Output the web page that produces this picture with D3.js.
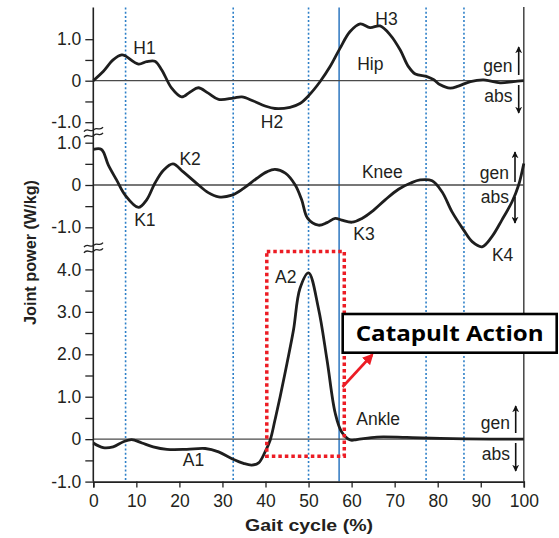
<!DOCTYPE html>
<html><head><meta charset="utf-8">
<script src="https://cdn.jsdelivr.net/npm/d3@7"></script>
<style>html,body{margin:0;padding:0;background:#fff;} svg{display:block;}</style>
</head><body>
<svg id="chart" width="559" height="538"></svg>
<script>
// ---------------- DATA ----------------
const hipPct   = [0,2.3,4.6,6.6,7.4,10.5,12.4,14.3,15.9,18.2,20.5,22.5,24.4,26.7,29.1,32.5,34.5,37.2,39.9,42.2,45.7,48.0,50.2,52.7,55.0,57.3,59.6,62.0,64.3,66.6,69.0,71.3,73.2,74.8,77.5,79.0,80.6,82.9,84.8,87.6,90.7,94.5,97.6,100];
const hipPower = [0,0.22,0.5,0.62,0.6,0.40,0.46,0.47,0.26,-0.18,-0.39,-0.27,-0.17,-0.30,-0.45,-0.42,-0.39,-0.49,-0.61,-0.67,-0.64,-0.55,-0.34,-0.02,0.34,0.78,1.18,1.37,1.28,1.32,1.10,0.74,0.34,0.16,0.10,0.03,-0.10,-0.18,-0.13,-0.02,0.02,-0.05,-0.02,0];

const kneePct   = [0,1.9,3.5,5.4,7.4,10.5,12.4,14.3,16.3,18.5,20.9,24.0,26.7,29.1,32.2,34.9,38.0,40.3,42.2,44.6,46.9,48.4,49.8,52.3,54.3,56.2,57.7,60.1,62.4,64.7,67.8,70.9,73.6,75.9,78.7,81.0,83.3,86.0,88.0,90.3,92.6,94.9,97.3,98.8,100];
const kneePower = [0.84,0.84,0.47,0.12,-0.24,-0.53,-0.35,0.04,0.35,0.50,0.31,0.04,-0.18,-0.28,-0.24,-0.08,0.16,0.31,0.37,0.28,0.0,-0.35,-0.79,-0.95,-0.89,-0.79,-0.83,-0.88,-0.79,-0.63,-0.35,-0.10,0.04,0.12,0.10,-0.16,-0.63,-1.06,-1.34,-1.46,-1.22,-0.83,-0.39,0.0,0.51];

const anklePct   = [0,2.3,4.6,7.0,8.9,11.3,13.9,17.1,21.7,26.0,29.1,32.2,34.9,36.8,38.4,39.9,41.1,42.2,43.4,45.0,46.5,48.0,50.0,52.3,54.3,56.2,57.7,59.7,61.2,65.9,72.8,80.6,92.2,100];
const anklePower = [-0.09,-0.20,-0.18,-0.06,-0.01,-0.09,-0.18,-0.24,-0.24,-0.22,-0.30,-0.46,-0.57,-0.61,-0.56,-0.30,-0.02,0.45,1.0,1.79,2.57,3.55,3.92,3.08,1.86,0.61,0.17,-0.02,-0.01,0.05,0.04,0.02,0.0,0.0];

const xTicks = [0,10,20,30,40,50,60,70,80,90,100];
const hipTicks = [-1,-0.5,0,0.5,1];
const kneeTicks = [-1,-0.5,0,0.5,1];
const ankleTicks = [-1,-0.5,0,0.5,1,1.5,2,2.5,3,3.5,4];
const majorTicks = [-1,0,1,2,3,4];

const eventLines = [7.5, 32.5, 50, 77.3, 86.1];   // dotted
const toeOff = 57.1;                              // solid

const peakLabels = ["H1","H2","H3","K1","K2","K3","K4","A1","A2"];
const jointNames = ["Hip","Knee","Ankle"];

// ---------------- SETUP ----------------
const FONT = "'Liberation Sans', Arial, Helvetica, sans-serif";
const TXT = "#231f20";
const svg = d3.select("#chart");

const x = d3.scaleLinear().domain([0,100]).range([93.3,523.8]);
const yHip = d3.scaleLinear().domain([-1,1]).range([122.2,39.2]);
const yKnee = d3.scaleLinear().domain([-1,1]).range([227.3,142.7]);
const yAnkle = d3.scaleLinear().domain([-1,4]).range([481.6,269.4]);
const plotTop = 7.5, plotBottom = 481.6;

const defs = svg.append("defs");
defs.append("marker").attr("id","blk").attr("viewBox","0 0 10 10").attr("refX",9).attr("refY",5)
  .attr("markerWidth",7).attr("markerHeight",7).attr("markerUnits","userSpaceOnUse").attr("orient","auto")
  .append("path").attr("d","M0,0 L10,5 L0,10 L3,5 z").attr("fill","#111");
defs.append("marker").attr("id","red").attr("viewBox","0 0 10 10").attr("refX",8).attr("refY",5)
  .attr("markerWidth",11).attr("markerHeight",11).attr("markerUnits","userSpaceOnUse").attr("orient","auto")
  .append("path").attr("d","M0,0 L10,5 L0,10 z").attr("fill","#ec1c24");

// vertical event lines
svg.append("g").selectAll("line").data(eventLines).join("line")
  .attr("x1", d => x(d)).attr("x2", d => x(d)).attr("y1", plotTop).attr("y2", plotBottom)
  .attr("stroke","#2f80c8").attr("stroke-width",1.6).attr("stroke-dasharray","2,2.2");
svg.append("line").attr("x1", x(toeOff)).attr("x2", x(toeOff)).attr("y1", plotTop).attr("y2", plotBottom)
  .attr("stroke","#3b7fc4").attr("stroke-width",1.6);

// zero lines
[yHip, yKnee, yAnkle].forEach(s => {
  svg.append("line").attr("x1", x(0)).attr("x2", x(100)).attr("y1", s(0)).attr("y2", s(0))
    .attr("stroke","#4a4a4a").attr("stroke-width",1.3);
});

// right border
svg.append("line").attr("x1", x(100)).attr("x2", x(100)).attr("y1", 7).attr("y2", plotBottom)
  .attr("stroke","#444").attr("stroke-width",1.5);

// left axes
function fmt(d){ return d === 0 ? "0" : d.toFixed(1); }
function leftAxis(scale, ticks){
  const g = svg.append("g").attr("transform", `translate(${x(0)},0)`)
    .call(d3.axisLeft(scale).tickValues(ticks).tickSize(8).tickPadding(4)
      .tickFormat(d => majorTicks.includes(d) ? fmt(d) : ""));
  g.select(".domain").remove();
  g.selectAll("line").attr("stroke","#222").attr("stroke-width",1.3);
  g.selectAll("text").attr("font-family",FONT).attr("font-size",17.5).attr("fill",TXT);
}
leftAxis(yHip, hipTicks);
leftAxis(yKnee, kneeTicks);
leftAxis(yAnkle, ankleTicks);
svg.append("line").attr("x1", x(0)).attr("x2", x(0)).attr("y1", plotTop).attr("y2", plotBottom)
  .attr("stroke","#222").attr("stroke-width",1.6);

// break marks
[132.5, 248].forEach(yb => {
  [-2.8, 2.8].forEach(off => {
    const y0 = yb + off;
    svg.append("path")
      .attr("d", `M84,${y0+2} C87,${y0-3} 91,${y0+3.5} 94,${y0} C97,${y0-3.5} 100,${y0+2} 103,${y0-2.5}`)
      .attr("fill","none").attr("stroke","#222").attr("stroke-width",1.3);
  });
});

// bottom axis
const gx = svg.append("g").attr("transform", `translate(0,${plotBottom})`)
  .call(d3.axisBottom(x).tickValues(xTicks).tickSize(6).tickFormat(d3.format("d")));
gx.select(".domain").attr("stroke","#222").attr("stroke-width",1.6);
gx.selectAll("line").attr("stroke","#222").attr("stroke-width",1.3);
gx.selectAll("text").attr("font-family",FONT).attr("font-size",17.5).attr("fill",TXT)
  .attr("y", 25).attr("dy","0");

// curves
function curve(pct, vals, ys){
  const line = d3.line().x((d,i) => x(pct[i])).y(d => ys(d)).curve(d3.curveCatmullRom.alpha(0.5));
  svg.append("path").datum(vals).attr("d", line)
    .attr("fill","none").attr("stroke","#1e1e1e").attr("stroke-width",2.8).attr("stroke-linejoin","round");
}
curve(hipPct, hipPower, yHip);
curve(kneePct, kneePower, yKnee);
curve(anklePct, anklePower, yAnkle);

// labels
function label(t, px, py, anchor){
  svg.append("text").attr("x",px).attr("y",py).attr("text-anchor",anchor||"start")
    .attr("font-family",FONT).attr("font-size",17.5).attr("fill",TXT).text(t);
}
const labelPos = {
  H1:[x(9.3),54], H2:[x(38.9),128], H3:[x(65.5),25],
  K1:[x(9.5),226], K2:[x(20),165], K3:[x(60.4),240], K4:[x(92.6),260.5],
  A1:[x(20.8),466], A2:[x(42.2),283]
};
peakLabels.forEach(k => label(k, labelPos[k][0], labelPos[k][1]));
label(jointNames[0], x(61.3), 70);
label(jointNames[1], x(62.4), 178);
label(jointNames[2], x(61.1), 425);

// gen / abs
const genAbs = [
  {gen:72, abs:101.5, ax:518.7, up:[75,47], dn:[85,113], tx:512.5},
  {gen:178.5, abs:203, ax:515, up:[182,152], dn:[197,223], tx:509},
  {gen:429, abs:459.5, ax:515.7, up:[433,406], dn:[443,471], tx:510}
];
genAbs.forEach(g => {
  label("gen", g.tx, g.gen, "end");
  label("abs", g.tx, g.abs, "end");
  svg.append("line").attr("x1",g.ax).attr("x2",g.ax).attr("y1",g.up[0]).attr("y2",g.up[1])
    .attr("stroke","#111").attr("stroke-width",1.6).attr("marker-end","url(#blk)");
  svg.append("line").attr("x1",g.ax).attr("x2",g.ax).attr("y1",g.dn[0]).attr("y2",g.dn[1])
    .attr("stroke","#111").attr("stroke-width",1.6).attr("marker-end","url(#blk)");
});

// axis titles
svg.append("text").attr("transform","translate(36,252.5) rotate(-90)").attr("text-anchor","middle")
  .attr("font-family",FONT).attr("font-weight","bold").attr("font-size",17).attr("fill",TXT)
  .attr("textLength",145).attr("lengthAdjust","spacingAndGlyphs").text("Joint power (W/kg)");
svg.append("text").attr("x",309).attr("y",531).attr("text-anchor","middle")
  .attr("font-family",FONT).attr("font-weight","bold").attr("font-size",17).attr("fill",TXT)
  .attr("textLength",128).attr("lengthAdjust","spacingAndGlyphs").text("Gait cycle (%)");

// highlight box (red dotted)
const hl = {x0:40.3, x1:58.3, v0:-0.4, v1:4.42};
svg.append("rect").attr("x",x(hl.x0)).attr("y",yAnkle(hl.v1))
  .attr("width",x(hl.x1)-x(hl.x0)).attr("height",yAnkle(hl.v0)-yAnkle(hl.v1))
  .attr("fill","none").attr("stroke","#ec1c24").attr("stroke-width",3.5).attr("stroke-dasharray","3.5,3");

// red arrow
svg.append("line").attr("x1",342.5).attr("y1",387).attr("x2",372).attr("y2",355)
  .attr("stroke","#ec1c24").attr("stroke-width",2.6).attr("marker-end","url(#red)");

// callout box
svg.append("rect").attr("x",342.7).attr("y",314).attr("width",214).attr("height",38.7)
  .attr("fill","#fff").attr("stroke","#000").attr("stroke-width",2.6);
svg.append("text").attr("x",449.7).attr("y",341).attr("text-anchor","middle")
  .attr("font-family","'Open Sans', 'Noto Sans', sans-serif").attr("font-weight","bold").attr("font-size",22)
  .attr("fill","#000").attr("textLength",188).attr("lengthAdjust","spacingAndGlyphs").text("Catapult Action");
</script>
</body></html>
